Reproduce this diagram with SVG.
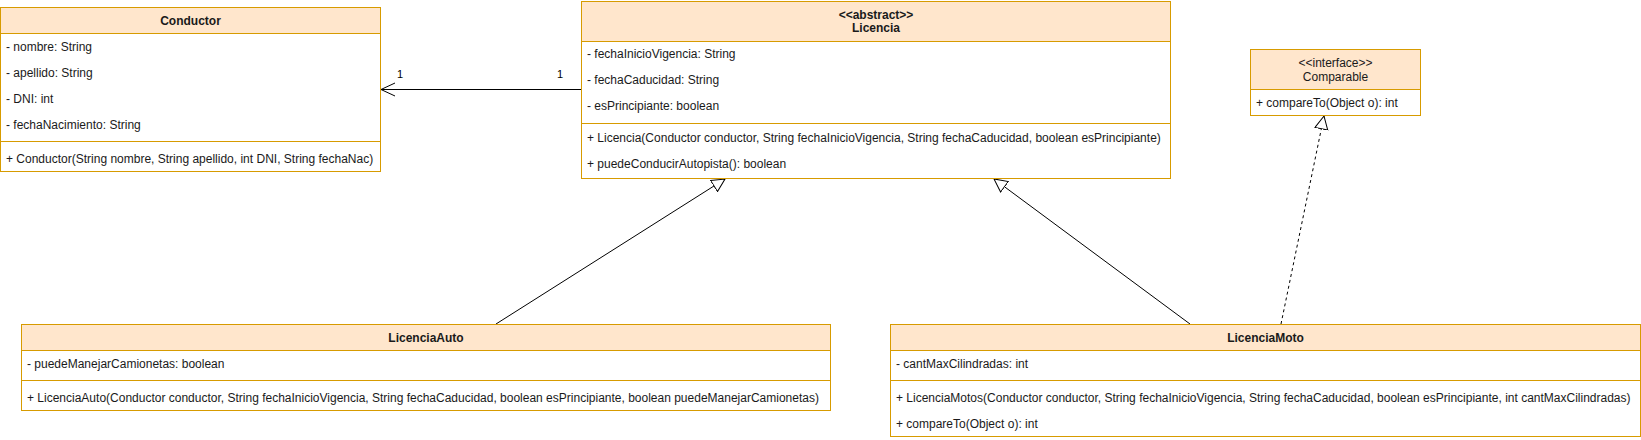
<svg xmlns="http://www.w3.org/2000/svg" width="1641" height="440" viewBox="0 0 1641 440">
<style>
.box{fill:#ffffff;stroke:#d79b00;stroke-width:1}
.hdr{fill:#ffe6cc;stroke:#d79b00;stroke-width:1}
.sep{stroke:#d79b00;stroke-width:1;fill:none}
text{font-family:"Liberation Sans",Arial,sans-serif;font-size:12px;fill:#1a1a1a}
.t{font-weight:bold;text-anchor:middle}
.c{text-anchor:middle}
.edge{stroke:#000;stroke-width:1;fill:none}
.lbl{font-size:11px;fill:#000}
</style>
<defs>
<marker id="open" markerUnits="userSpaceOnUse" markerWidth="16" markerHeight="16" refX="14" refY="7" orient="auto">
<path d="M0,0.5 L14,7 L0,13.5" fill="none" stroke="#000" stroke-width="1"/>
</marker>
<marker id="tri" markerUnits="userSpaceOnUse" markerWidth="16" markerHeight="16" refX="13.5" refY="7" orient="auto">
<path d="M0.5,0.5 L13.5,7 L0.5,13.5 Z" fill="#fff" stroke="#000" stroke-width="1"/>
</marker>
</defs>
<g id="connectors">
<line class="edge" x1="581" y1="89.5" x2="381" y2="89.5" marker-end="url(#open)"/>
<text class="lbl" x="397" y="78">1</text>
<text class="lbl" x="557" y="78">1</text>
<line class="edge" x1="496" y1="324" x2="725" y2="179" marker-end="url(#tri)"/>
<line class="edge" x1="1190" y1="324" x2="994" y2="179" marker-end="url(#tri)"/>
<line class="edge" x1="1281" y1="324" x2="1324" y2="116" stroke-dasharray="3 3" marker-end="url(#tri)"/>
</g>
<g id="Conductor">
<rect class="box" x="0.5" y="7.5" width="380" height="164"/>
<rect class="hdr" x="0.5" y="7.5" width="380" height="26"/>
<text class="t" x="190.5" y="25">Conductor</text>
<text x="6" y="51">- nombre: String</text>
<text x="6" y="77">- apellido: String</text>
<text x="6" y="103">- DNI: int</text>
<text x="6" y="129">- fechaNacimiento: String</text>
<line class="sep" x1="0.5" y1="141.5" x2="380.5" y2="141.5"/>
<text x="6" y="163">+ Conductor(String nombre, String apellido, int DNI, String fechaNac)</text>
</g>
<g id="Licencia">
<rect class="box" x="581.5" y="1.5" width="589" height="177"/>
<rect class="hdr" x="581.5" y="1.5" width="589" height="40"/>
<text class="t" x="876" y="19">&lt;&lt;abstract&gt;&gt;</text>
<text class="t" x="876" y="32">Licencia</text>
<text x="587" y="58">- fechaInicioVigencia: String</text>
<text x="587" y="84">- fechaCaducidad: String</text>
<text x="587" y="110">- esPrincipiante: boolean</text>
<line class="sep" x1="581.5" y1="123.5" x2="1170.5" y2="123.5"/>
<text x="587" y="142">+ Licencia(Conductor conductor, String fechaInicioVigencia, String fechaCaducidad, boolean esPrincipiante)</text>
<text x="587" y="168">+ puedeConducirAutopista(): boolean</text>
</g>
<g id="Comparable">
<rect class="box" x="1250.5" y="49.5" width="170" height="66"/>
<rect class="hdr" x="1250.5" y="49.5" width="170" height="40"/>
<text class="c" x="1335.5" y="67">&lt;&lt;interface&gt;&gt;</text>
<text class="c" x="1335.5" y="81">Comparable</text>
<text x="1256" y="107">+ compareTo(Object o): int</text>
</g>
<g id="LicenciaAuto">
<rect class="box" x="21.5" y="324.5" width="809" height="86"/>
<rect class="hdr" x="21.5" y="324.5" width="809" height="26"/>
<text class="t" x="426" y="342">LicenciaAuto</text>
<text x="27" y="368">- puedeManejarCamionetas: boolean</text>
<line class="sep" x1="21.5" y1="380.5" x2="830.5" y2="380.5"/>
<text x="27" y="402">+ LicenciaAuto(Conductor conductor, String fechaInicioVigencia, String fechaCaducidad, boolean esPrincipiante, boolean puedeManejarCamionetas)</text>
</g>
<g id="LicenciaMoto">
<rect class="box" x="890.5" y="324.5" width="750" height="112"/>
<rect class="hdr" x="890.5" y="324.5" width="750" height="26"/>
<text class="t" x="1265.5" y="342">LicenciaMoto</text>
<text x="896" y="368">- cantMaxCilindradas: int</text>
<line class="sep" x1="890.5" y1="380.5" x2="1640.5" y2="380.5"/>
<text x="896" y="402">+ LicenciaMotos(Conductor conductor, String fechaInicioVigencia, String fechaCaducidad, boolean esPrincipiante, int cantMaxCilindradas)</text>
<text x="896" y="428">+ compareTo(Object o): int</text>
</g>
</svg>
